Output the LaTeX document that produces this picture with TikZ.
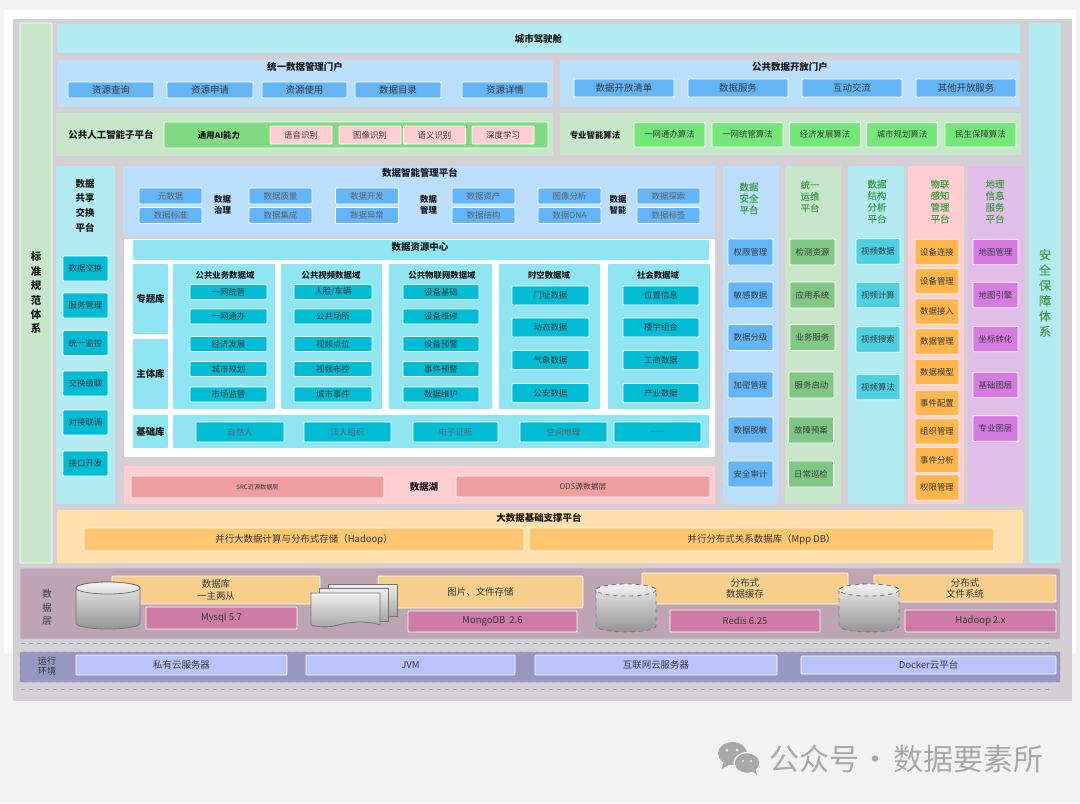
\documentclass[tikz,border=0pt]{standalone}
\usepackage{fontspec}
\usepackage{xcolor}
\setmainfont{Noto Sans CJK SC}
\newfontfamily\semifont[FakeBold=0.25]{Noto Sans CJK SC}
\definecolor{outerc}{HTML}{F2F2F2}
\definecolor{framec}{HTML}{D4CED5}
\definecolor{mintc}{HTML}{C8E6C9}
\definecolor{cyanc}{HTML}{B2EBF2}
\definecolor{bluep}{HTML}{BBDEFB}
\definecolor{bluec}{HTML}{64B5F6}
\definecolor{pinkc}{HTML}{FFCDD2}
\definecolor{greenb}{HTML}{81D981}
\definecolor{limec}{HTML}{74E77B}
\definecolor{tealc}{HTML}{00BCD4}
\definecolor{aquac}{HTML}{8FE6F2}
\definecolor{salmc}{HTML}{EF9F9F}
\definecolor{cyanm}{HTML}{4DD0E1}
\definecolor{greenm}{HTML}{81C784}
\definecolor{orangc}{HTML}{FFB74D}
\definecolor{violp}{HTML}{E1BEE7}
\definecolor{violc}{HTML}{D57CE0}
\definecolor{sandp}{HTML}{FFDFAC}
\definecolor{sandc}{HTML}{FFC670}
\definecolor{mauvc}{HTML}{BEA5B3}
\definecolor{peachc}{HTML}{F8CE8D}
\definecolor{rosec}{HTML}{CE7BA6}
\definecolor{indigc}{HTML}{9797C1}
\definecolor{periwc}{HTML}{BBC3FB}
\definecolor{titleg}{HTML}{43A047}
\definecolor{markc}{HTML}{A8A8A8}
\newcommand{\drum}[5][]{%
  \draw[drumbody,#1] (#2,#3+6) -- (#2,#5-6) arc[start angle=180,end angle=0,x radius={(#4-#2)/2},y radius=6]
    -- (#4,#3+6) arc[start angle=0,end angle=-180,x radius={(#4-#2)/2},y radius=6] -- cycle;
  \draw[drumtop,#1] ({(#2+#4)/2},#3+6) ellipse[x radius={(#4-#2)/2},y radius=6];
}
\begin{document}
\begin{tikzpicture}[x=0.75pt,y=-0.75pt,
  wh/.style 2 args={minimum width=#1*0.75pt, minimum height=#2*0.75pt},
  pane/.style={rectangle, rounded corners=0.6pt, inner sep=0pt, align=center},
  cell/.style={pane, draw=white, line width=0.5pt, text=black!78, font=\fontsize{6.3}{7.6}\selectfont},
  dim/.style={text=black!62},
  big/.style={font=\fontsize{7.1}{8.6}\selectfont},
  ttl/.style={inner sep=0pt, align=center, text=black!90, font=\fontsize{7.1}{9}\selectfont\bfseries},
  sub/.style={inner sep=0pt, align=center, text=black!90, font=\fontsize{6.3}{8}\selectfont\bfseries},
  coltl/.style={inner sep=0pt, align=center, text=titleg, font=\fontsize{7.1}{8.7}\selectfont\semifont},
  plain/.style={inner sep=0pt, align=center, text=black!78, font=\fontsize{7.1}{9.2}\selectfont},
  drumbody/.style={draw=black!55, line width=0.6pt, top color=black!8, bottom color=black!42},
  drumtop/.style={draw=black!55, line width=0.6pt, top color=black!5, bottom color=black!14},
  sheet/.style={draw=black!55, line width=0.6pt, top color=black!6, bottom color=black!35}]
\useasboundingbox (0,0) rectangle (1080,803);
\fill[outerc] (0,0) rectangle (1080,803);
\fill[white] (4,10) rectangle (1076,653);
\fill[framec] (13,19) rectangle (1072,701);

% side columns
\node[pane, wh={32}{540}, fill=mintc, draw=white, line width=0.4pt, text=black!90,
  font=\fontsize{7.8}{10.8}\selectfont\bfseries] (std) at (36,293) {标\\准\\规\\范\\体\\系};
\node[pane, wh={32}{540}, fill=cyanc, text=titleg,
  font=\fontsize{9}{11.5}\selectfont\semifont] (safe) at (1045,293) {安\\全\\保\\障\\体\\系};

% cockpit and portals
\node[pane, wh={963}{29}, fill=cyanc, ttl] (cock) at (538.5,38.5) {城市驾驶舱};
\node[pane, wh={496}{47}, fill=bluep] (pm) at (305,83.5) {};
\node[ttl] (pmT) at (305,67) {统一数据管理门户};
\foreach \n/\c/\w/\t in {1/111/86/资源查询,2/210/86/资源申请,3/304.5/85/资源使用,4/398/86/数据目录,5/505/86/资源详情}
  \node[cell, big, fill=bluec, wh={\w}{16}] (pm\n) at (\c,90) {\t};
\node[pane, wh={460}{47}, fill=bluep] (po) at (790,83.5) {};
\node[ttl] (poT) at (790,67) {公共数据开放门户};
\foreach \n/\c/\t in {1/624/数据开放清单,2/738/数据服务,3/852/互动交流,4/966/其他开放服务}
  \node[cell, big, fill=bluec, wh={100}{18}] (po\n) at (\c,88) {\t};

% AI platforms
\node[pane, wh={497}{43}, fill=mintc] (ai) at (304.5,134.5) {};
\node[ttl] (aiT) at (111,135) {公共人工智能子平台};
\node[pane, wh={384}{26}, fill=greenb, draw=white, line width=0.5pt] (gen) at (356,135) {};
\node[sub] (genT) at (219,135) {通用AI能力};
\foreach \n/\c/\t in {1/301/语音识别,2/370/图像识别,3/434.5/语义识别,4/503/深度学习}
  \node[cell, fill=pinkc, wh={62}{18}] (gen\n) at (\c,135) {\t};
\node[pane, wh={461}{42}, fill=mintc] (alg) at (790.5,134) {};
\node[sub] (algT) at (595,135) {专业智能算法};
\foreach \n/\c/\t in {1/669.5/一网通办算法,2/747.5/一网统管算法,3/825/经济发展算法,4/902/城市规划算法,5/980.5/民生保障算法}
  \node[cell, fill=limec, wh={71}{24.5}] (alg\n) at (\c,134.75) {\t};

% sharing column
\node[pane, wh={59}{338}, fill=cyanc] (sh) at (85.5,335) {};
\node[ttl] (shT) at (85,205.5) {数据\\[2pt]共享\\[2pt]交换\\[2pt]平台};
\foreach \n/\y/\t in {1/268.5/数据交换,2/305.5/服务管理,3/343/统一监控,4/383.5/交换级联,5/422.5/对接联调,6/463.5/接口开发}
  \node[cell, fill=tealc, wh={45}{25}] (sh\n) at (85.5,\y) {\t};

% data intelligence platform
\node[pane, wh={592}{70}, fill=bluep] (dip) at (419,201) {};
\node[ttl] (dipT) at (420,172.5) {数据智能管理平台};
\foreach \n/\c/\a/\b in {1/170.5/元数据/数据标准,2/280.5/数据质量/数据集成,3/367/数据开发/数据异常,4/483.5/数据资产/数据结构,5/569.5/图像分析/数据ONA,6/668.5/数据探索/数据标签}{
  \node[cell, dim, fill=bluec, wh={63}{16}] (dipa\n) at (\c,196) {\a};
  \node[cell, dim, fill=bluec, wh={63}{16}] (dipb\n) at (\c,215.5) {\b};
}
\node[sub] (gov) at (222.5,204.5) {数据\\治理};
\node[sub] (mgt) at (428.5,204.5) {数据\\管理};
\node[sub] (itl) at (618,204.5) {数据\\智能};

% resource centre
\node[pane, wh={591}{218}, fill=white] (rc) at (419.5,348) {};
\node[pane, wh={576}{20}, fill=aquac] (rcT) at (421,250) {};
\node[ttl] at (420,247) (rcL) {数据资源中心};
\node[pane, ttl, wh={35}{70}, fill=aquac] (topic) at (150.5,299) {专题库};
\node[pane, ttl, wh={35}{70}, fill=aquac] (subj) at (150.5,374) {主体库};
\node[pane, ttl, wh={35}{33}, fill=aquac] (base) at (150.5,431.5) {基础库};
\foreach \k/\c/\w/\x/\t in {a/224/102/225/公共业务数据域,b/331.5/101/331/公共视频数据域,c/440.5/103/442/公共物联网数据域,d/549.5/101/549/时空数据域,e/659/102/658/社会数据域}{
  \node[pane, wh={\w}{145}, fill=aquac] (dom\k) at (\c,336.5) {};
  \node[sub] (dom\k T) at (\x,275.5) {\t};
}
\foreach \r/\y/\a/\b/\c in {1/292/一网统管/{人脸/车辆}/设备基础,2/316.5/一网通办/公共场所/设备维修,3/344/经济发展/视频点位/设备预警,4/369/城市规划/视频布控/事件预警,5/394.5/市场监管/城市事件/数据维护}{
  \node[cell, fill=tealc, wh={77}{15}] (doma\r) at (228.5,\y) {\a};
  \node[cell, fill=tealc, wh={78}{15}] (domb\r) at (333,\y) {\b};
  \node[cell, fill=tealc, wh={76}{15}] (domc\r) at (441,\y) {\c};
}
\foreach \r/\y/\a/\b in {1/295.5/门址数据/位置信息,2/327.5/动态数据/楼宇组合,3/360/气象数据/工商数据,4/393/公安数据/产业数据}{
  \node[cell, fill=tealc, wh={77}{19}] (domd\r) at (550.5,\y) {\a};
  \node[cell, fill=tealc, wh={76}{19}] (dome\r) at (661,\y) {\b};
}
\node[pane, wh={536}{33}, fill=aquac] (band) at (441,431.5) {};
\foreach \n/\c/\w/\t in {1/240/88/自然人,2/347.5/87/法人组织,3/455.5/85/电子证照,4/563.5/87/空间地理}
  \node[cell, dim, fill=tealc, wh={\w}{20}] (band\n) at (\c,432) {\t};
\node[cell, dim, fill=tealc, wh={87}{20}] (band5) at (657.5,432) {......};

% data lake
\node[pane, wh={591}{38}, fill=pinkc] (lake) at (419.5,485) {};
\node[cell, fill=salmc, wh={253}{22}, font=\fontsize{4.6}{6}\selectfont] (src) at (257.5,487) {SRC近源数据层};
\node[cell, fill=salmc, wh={254}{21}, font=\fontsize{5.8}{7}\selectfont] (ods) at (583,486.5) {ODS源数据层};
\node[sub, big, font=\fontsize{7.1}{9}\selectfont\bfseries] (lakeT) at (424,487) {数据湖};

% platform columns
\node[pane, wh={56}{338}, fill=bluep] (cola) at (751,335) {};
\node[coltl] (colaT) at (749,198.5) {数据\\安全\\平台};
\foreach \n/\y/\t in {1/252/权限管理,2/295/敏感数据,3/337.5/数据分级,4/385/加密管理,5/430/数据脱敏,6/474/安全审计}
  \node[cell, fill=bluec, wh={45}{26}] (cola\n) at (750.5,\y) {\t};
\node[pane, wh={56}{338}, fill=mintc] (colb) at (813,335) {};
\node[coltl] (colbT) at (810,196.5) {统一\\运维\\平台};
\foreach \n/\x/\y/\t in {1/812.5/252/检测资源,2/812.5/295/应用系统,3/812.5/337.5/业务服务,4/811.5/385/服务启动,5/811/430/故障预案,6/811/474/日常巡检}
  \node[cell, fill=greenm, wh={45}{26}] (colb\n) at (\x,\y) {\t};
\node[pane, wh={56}{338}, fill=cyanc] (colc) at (876,335) {};
\node[coltl] (colcT) at (877,201.5) {数据\\结构\\分析\\平台};
\foreach \n/\y/\t in {1/251.5/视频数据,2/295/视频计算,3/339.5/视频搜索,4/387/视频算法}
  \node[cell, fill=cyanm, wh={44}{25.5}] (colc\n) at (878,\y) {\t};
\node[pane, wh={56}{338}, fill=pinkc] (cold) at (936,335) {};
\node[coltl] (coldT) at (940,201.5) {物联\\感知\\管理\\平台};
\foreach \n/\y/\t in {1/252/设备连接,2/281/设备管理,3/311.5/数据接入,4/341.5/数据管理,5/372/数据模型,6/403/事件配置,7/431.5/组织管理,8/460/事件分析,9/487.5/权限管理}
  \node[cell, fill=orangc, wh={44}{25.5}] (cold\n) at (937,\y) {\t};
\node[pane, wh={56}{338}, fill=violp] (cole) at (996,335) {};
\node[coltl] (coleT) at (995,201.5) {地理\\信息\\服务\\平台};
\foreach \n/\y/\t in {1/252/地图管理,2/295/地图引擎,3/339/坐标转化,4/385/基础图层,5/428.5/专业图层}
  \node[cell, fill=violc, wh={45}{25.5}] (cole\n) at (995.5,\y) {\t};

% big data support
\node[pane, wh={966}{53}, fill=sandp] (bd) at (540,536.5) {};
\node[ttl] (bdT) at (539,518) {大数据基础支撑平台};
\node[cell, big, fill=sandc, wh={440}{23}] (hdp) at (304,539.5) {并行大数据计算与分布式存储（Hadoop）};
\node[cell, big, fill=sandc, wh={465}{23}] (mpp) at (761.5,539.5) {并行分布式关系数据库（Mpp DB）};

% data layer
\node[pane, wh={1040}{71}, fill=mauvc, draw=black!18, line width=0.4pt] (dl) at (540,603.5) {};
\node[plain] (dlT) at (47,607.5) {数\\[1pt]据\\[1pt]层};
\node[cell, big, fill=peachc, wh={208}{28}] (mysqlT) at (216,590) {数据库\\一主两从};
\node[cell, big, fill=rosec, wh={151}{22}] (mysql) at (221.5,618) {Mysql 5.7};
\drum{76}{582}{140}{629}
\node[cell, big, fill=peachc, wh={205}{32}] (fileT) at (480.5,592) {图片、文件存储};
\node[cell, big, fill=rosec, wh={169}{21}] (mongo) at (492.5,621.5) {MongoDB\ \ 2.6};
\draw[sheet] (328,584) rectangle (397,616);
\draw[sheet] (319,588) rectangle (388,621);
\draw[sheet] (311,593) -- (380,593) -- (380,625) .. controls (366,620) and (350,622) .. (338,625)
  .. controls (328,628) and (318,627) .. (311,625) -- cycle;
\node[cell, big, fill=peachc, wh={206}{31}] (redisT) at (745,588.5) {分布式\\数据缓存};
\node[cell, big, fill=rosec, wh={150}{22}] (redis) at (745,621) {Redis 6.25};
\drum[dashed]{596}{584}{656}{632}
\node[cell, big, fill=peachc, wh={182}{27}] (hfsT) at (965,588.5) {分布式\\文件系统};
\node[cell, big, fill=rosec, wh={151}{22}] (hfs) at (980.5,621) {Hadoop 2.x};
\drum[dashed]{839}{584}{899}{632}

% runtime layer
\draw[dashed, black!38, line width=0.5pt] (21,643) -- (1052,643);
\node[pane, wh={1040}{30}, fill=indigc, draw=indigc!85!black, dashed, line width=0.3pt] (rt) at (540,667) {};
\node[plain, font=\fontsize{6.8}{7.8}\selectfont] (rtT) at (47,666) {运行\\环境};
\foreach \n/\c/\y/\w/\h/\t in {1/181.5/665/211/20/私有云服务器,2/410.5/665/209/20/JVM,3/656/665/242/20/互联网云服务器,4/928.5/665/255/18/Docker云平台}
  \node[cell, big, fill=periwc, wh={\w}{\h}] (rt\n) at (\c,\y) {\t};
\draw[dashed, black!38, line width=0.5pt] (21,689) -- (1052,689);

% watermark
\fill[markc] (732.5,753.5) ellipse[x radius=14.5,y radius=11.5];
\fill[markc] (723,763) -- (722,769) -- (730,764) -- cycle;
\draw[outerc, fill=markc, line width=1pt] (747,763) ellipse[x radius=13,y radius=10.5];
\fill[markc] (752,771) -- (757,775) -- (755,768) -- cycle;
\fill[outerc] (727,750) circle[radius=1.5] (737,750) circle[radius=1.5] (743,761) circle[radius=1.2] (751,761) circle[radius=1.2];
\node[inner sep=0pt, text=markc, font=\fontsize{22.5}{26}\selectfont] (mark) at (906,759) {公众号\hspace{1.5pt}·\hspace{1.5pt}数据要素所};
\end{tikzpicture}
\end{document}
